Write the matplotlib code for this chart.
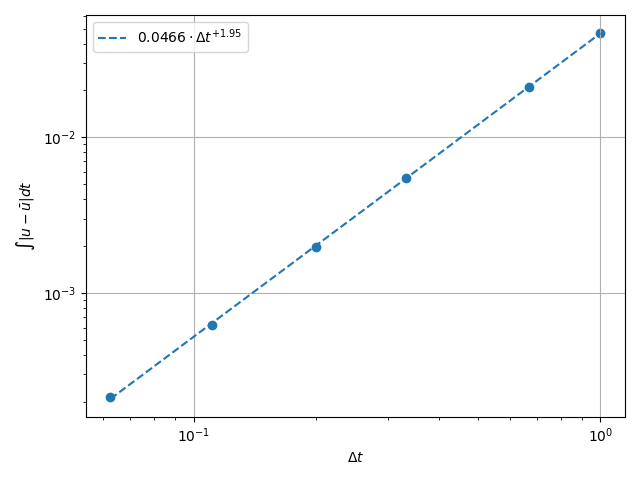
import numpy as np
import matplotlib
matplotlib.use("Agg")
import matplotlib.pyplot as plt

dt = [1/16, 1/9, 1/5, 1/3, 2/3, 1.0]
err = [0.000216, 0.000623, 0.00197, 0.00546, 0.0212, 0.0465]
coef = 0.0466
expo = 1.95

fig, ax = plt.subplots(figsize=(6.4, 4.8), dpi=100)
ax.scatter(dt, err)
x = np.array(dt)
ax.plot(x, coef * x**expo, '--', label=r'$0.0466 \cdot \Delta t^{+1.95}$')
ax.set_xscale('log')
ax.set_yscale('log')
ax.set_xlabel(r'$\Delta t$')
ax.set_ylabel(r'$\int |u - \bar{u}| dt$')
ax.grid(True)
ax.legend()
fig.tight_layout()
fig.savefig('out.png')
